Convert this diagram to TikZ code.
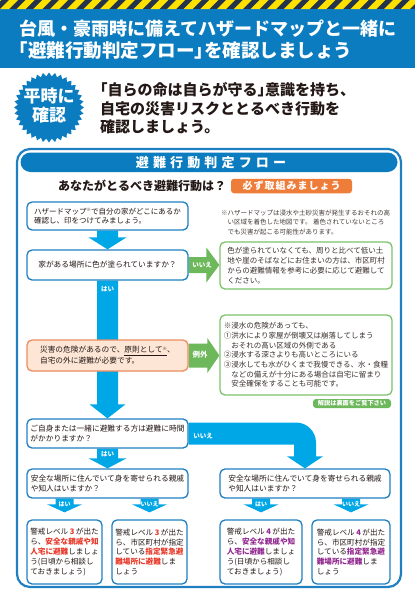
\documentclass[tikz,border=0pt]{standalone}
\usepackage{fontspec}
\setmainfont{Noto Sans CJK JP}
\newfontfamily\lsA{Noto Sans CJK JP}[LetterSpace=10]
\newfontfamily\lsB{Noto Sans CJK JP}[LetterSpace=32]
\usetikzlibrary{shapes.geometric,calc}
\pgfdeclarelayer{back}
\pgfdeclarelayer{mid}
\pgfsetlayers{back,mid,main}
\definecolor{headblue}{HTML}{0B7CBF}
\definecolor{stripedark}{HTML}{24344D}
\definecolor{stripeyellow}{HTML}{FFE100}
\definecolor{arrowblue}{HTML}{00A7E6}
\definecolor{boxblue}{HTML}{1E80C1}
\definecolor{greenA}{HTML}{6CB85A}
\definecolor{greenB}{HTML}{7DC26A}
\definecolor{orangeA}{HTML}{EF7D3A}
\definecolor{peach}{HTML}{FDE6D5}
\definecolor{peachline}{HTML}{EC8C5F}
\definecolor{hlred}{HTML}{E83828}
\definecolor{hlpurple}{HTML}{92278F}
\definecolor{ink}{HTML}{231815}
\newcommand\jlb{\makebox[0.5em][r]{「}}
\newcommand\jrb{\makebox[0.5em][l]{」}}
\newcommand\fsz[2]{\fontsize{#1}{#2}\selectfont}
\newcommand\hlr[1]{{\bfseries\color{hlred}#1}}
\newcommand\hlp[1]{{\bfseries\color{hlpurple}#1}}
\newcommand\kome{{\fsz{4.5}{5}\raisebox{2.5pt}{※}}}
\newcommand\blockdown[6]{%
  \fill[#6] let \p1=(#1), \p2=(#2) in
    (\x1-#3,\y1) -- (\x1-#3,\y2+#5) -- (\x1-#4,\y2+#5) -- (\x1,\y2)
    -- (\x1+#4,\y2+#5) -- (\x1+#3,\y2+#5) -- (\x1+#3,\y1) -- cycle;}
\newcommand\blockright[6]{%
  \fill[#6] let \p1=(#1), \p2=(#2) in
    (\x1,\y1+#3) -- (\x2-#5,\y1+#3) -- (\x2-#5,\y1+#4) -- (\x2,\y1)
    -- (\x2-#5,\y1-#4) -- (\x2-#5,\y1-#3) -- (\x1,\y1-#3) -- cycle;}
\begin{document}
\begin{tikzpicture}[x=1pt,y=-1pt, font=\fsz{7.7}{10}, text=ink,
  qbox/.style={draw=boxblue, line width=1.3pt, rounded corners=5pt, fill=white, align=left, inner sep=0pt, minimum width=161pt},
  gbox/.style={draw=greenB, line width=1.3pt, rounded corners=5pt, fill=white, align=left, inner sep=0pt, text=ink!90},
  abox/.style={draw=boxblue, line width=1.3pt, rounded corners=5pt, fill=white, align=left, inner sep=0pt, minimum height=64pt, font=\fsz{7.6}{9.8}},
  lbl/.style={text=white, font=\bfseries\fsz{6.5}{7}, inner sep=0pt}]
\useasboundingbox (0,0) rectangle (415,600);

% header band
\fill[headblue] (0,0) rectangle (415,68);
\fill[stripedark] (0,0) rectangle (415,9);
\begin{scope}
\clip (0,0) rectangle (415,9);
\foreach \i in {-1,...,25} \fill[stripeyellow] (\i*16.7,9) -- (\i*16.7+9,0) -- (\i*16.7+18,0) -- (\i*16.7+9,9) -- cycle;
\end{scope}
\node[anchor=west, inner sep=0, text=white, font=\bfseries\fsz{18}{20}] (t1) at (19,29) {台風・豪雨時に備えてハザードマップと一緒に};
\node[anchor=west, inner sep=0, text=white, font=\bfseries\fsz{18.5}{20}] (t2) at (19,51) {\jlb 避難行動判定フロー\jrb を確認しましょう};

% badge and message
\node[star, star points=36, star point ratio=1.12, minimum size=70pt, inner sep=0, fill=headblue] (badge) at (49,107.5) {};
\node[text=white, font=\bfseries\fsz{17}{19}, align=center, inner sep=0] (badgetxt) at (49,106) {平時に\\確認};
\node[anchor=west, font=\bfseries\fsz{15}{18.5}, align=left, inner sep=0] (msg) at (100,108.5) {\jlb 自らの命は自らが守る\jrb 意識を持ち、\\自宅の災害リスクととるべき行動を\\確認しましょう。};

% panel
\begin{pgfonlayer}{back}
\draw[boxblue, line width=2.2pt, rounded corners=13pt, fill=white] (17,149) rectangle (401,587);
\end{pgfonlayer}
\fill[headblue, rounded corners=10pt] (20.5,152.5) rectangle (397.5,172);
\node[text=white, font=\lsB\bfseries\fsz{13}{14}, inner sep=0] (ftitle) at (211,162.5) {避難行動判定フロー};
\node[anchor=west, inner sep=0, font=\bfseries\fsz{12}{14}] (ask) at (58,186) {あなたがとるべき避難行動は？};
\node[fill=orangeA, rounded corners=3pt, minimum width=121pt, minimum height=14.5pt, inner sep=0, text=white, font=\lsA\bfseries\fsz{10}{11}] (must) at (291.5,186) {必ず取組みましょう};

% boxes
\node[qbox, minimum height=28pt, font=\fsz{7.5}{9.5}] (q1) at (107.5,216) {ハザードマップ\kome で自分の家がどこにあるか\\確認し、印をつけてみましょう。};
\node[anchor=west, inner sep=0, font=\fsz{6.5}{9.5}, align=left, text=ink!85] (note) at (221,222.3) {※ハザードマップは浸水や土砂災害が発生するおそれの高\\\hspace*{6.5pt}い区域を着色した地図です。 着色されていないところ\\\hspace*{6.5pt}でも災害が起こる可能性があります。};
\node[qbox, minimum height=30pt, align=center] (q2) at (107.5,265) {家がある場所に色が塗られていますか？};
\node[gbox, minimum width=172pt, minimum height=47pt, font=\fsz{7.5}{10}] (ga) at (306,265.5) {色が塗られていなくても、周りと比べて低い土\\地や崖のそばなどにお住まいの方は、市区町村\\からの避難情報を参考に必要に応じて避難して\\ください。};
\node[qbox, draw=peachline, fill=peach, minimum height=31pt, font=\fsz{7.7}{11}] (q3) at (107.5,355.5) {災害の危険があるので、\underline{原則として\kome}、\\自宅の外に避難が必要です。};
\node[gbox, minimum width=172pt, minimum height=80pt, font=\fsz{7.5}{9.7}] (gb) at (306,355) {※浸水の危険があっても、\\①洪水により家屋が倒壊又は崩落してしまう\\\hspace*{1em}おそれの高い区域の外側である\\②浸水する深さよりも高いところにいる\\③浸水しても水がひくまで我慢できる、水・食糧\\\hspace*{1em}などの備えが十分にある場合は自宅に留まり\\\hspace*{1em}安全確保をすることも可能です。};
\node[fill=greenA, rounded corners=3pt, minimum width=78pt, minimum height=9pt, inner sep=0, text=white, font=\bfseries\fsz{6.2}{7}] (see) at (352,403.5) {解説は裏面をご覧下さい};
\node[qbox, minimum height=29pt] (q4) at (107.5,433.5) {ご自身または一緒に避難する方は避難に時間\\がかかりますか？};
\node[qbox, minimum height=29pt, font=\fsz{7.7}{10.5}] (q5l) at (107.5,483.5) {安全な場所に住んでいて身を寄せられる親戚\\や知人はいますか？};
\node[qbox, minimum width=170pt, minimum height=29pt, font=\fsz{7.7}{10.5}] (q5r) at (305,483.5) {安全な場所に住んでいて身を寄せられる親戚\\や知人はいますか？};

\node[abox, minimum width=75pt] (l1) at (64.5,552) {警戒レベル\makebox[1em]{\hlr{3}}が出た\\ら、\hlr{安全な親戚や知}\\\hlr{人宅に避難}しましょ\\う(日頃から相談し\\ておきましょう)};
\node[abox, minimum width=75pt] (l2) at (149.5,552) {警戒レベル\makebox[1em]{\hlr{3}}が出た\\ら、市区町村が指定\\している\hlr{指定緊急避}\\\hlr{難場所に避難}しま\\しょう};
\node[abox, minimum width=82pt] (r1) at (261,552) {警戒レベル\makebox[1em]{\hlp{4}}が出た\\ら、\hlp{安全な親戚や知}\\\hlp{人宅に避難}しましょ\\う(日頃から相談し\\ておきましょう)};
\node[abox, minimum width=78pt] (r2) at (351,552) {警戒レベル\makebox[1em]{\hlp{4}}が出た\\ら、市区町村が指定\\している\hlp{指定緊急避}\\\hlp{難場所に避難}しま\\しょう};

% connectors
\begin{pgfonlayer}{mid}
\blockdown{q1.south}{q2.north}{10.5pt}{19pt}{12pt}{arrowblue}
\blockdown{q2.south}{q4.north}{10.5pt}{18pt}{14pt}{arrowblue}
\blockright{q2.east}{ga.west}{8pt}{17.5pt}{13pt}{greenA}
\blockright{q3.east}{gb.west}{12pt}{17.5pt}{12pt}{greenA}
\blockdown{q4.south}{q5l.north}{10.5pt}{19pt}{10pt}{arrowblue}
\fill[arrowblue] let \p1=(q4.east), \p2=(q5r.north) in
  (\x1,\y1+11pt) -- (\x2-9pt,\y1+11pt) .. controls (\x2+2pt,\y1+11pt) and (\x2+11pt,\y1+2pt) .. (\x2+11pt,\y1-9pt)
  -- (\x2+11pt,\y2+12pt) -- (\x2+18pt,\y2+12pt) -- (\x2,\y2) -- (\x2-18pt,\y2+12pt) -- (\x2-11pt,\y2+12pt)
  -- (\x2-11pt,\y1-11pt) -- (\x1,\y1-11pt) -- cycle;
\blockdown{l1.north |- q5l.south}{$(l1.north)+(0,-7)$}{9pt}{17.5pt}{8pt}{arrowblue}
\blockdown{l2.north |- q5l.south}{$(l2.north)+(0,-7)$}{9pt}{17.5pt}{8pt}{arrowblue}
\blockdown{r1.north |- q5r.south}{$(r1.north)+(0,-7)$}{9pt}{17.5pt}{8pt}{arrowblue}
\blockdown{r2.north |- q5r.south}{$(r2.north)+(0,-7)$}{9pt}{17.5pt}{8pt}{arrowblue}
\end{pgfonlayer}

% arrow labels
\node[lbl] (yes1) at (107.5,289) {はい};
\node[lbl] (no1) at (202,265) {いいえ};
\node[lbl, font=\bfseries\fsz{7.5}{8}] (exc) at (200,355) {例外};
\node[lbl] (no2) at (203,436) {いいえ};
\node[lbl] (yes2) at (107.5,454) {はい};
\node[lbl, font=\bfseries\fsz{6}{7}] (yes3) at (64.5,504) {はい};
\node[lbl, font=\bfseries\fsz{6}{7}] (no3) at (149.5,504) {いいえ};
\node[lbl, font=\bfseries\fsz{6}{7}] (yes4) at (261,504) {はい};
\node[lbl, font=\bfseries\fsz{6}{7}] (no4) at (351,504) {いいえ};
\end{tikzpicture}
\end{document}
